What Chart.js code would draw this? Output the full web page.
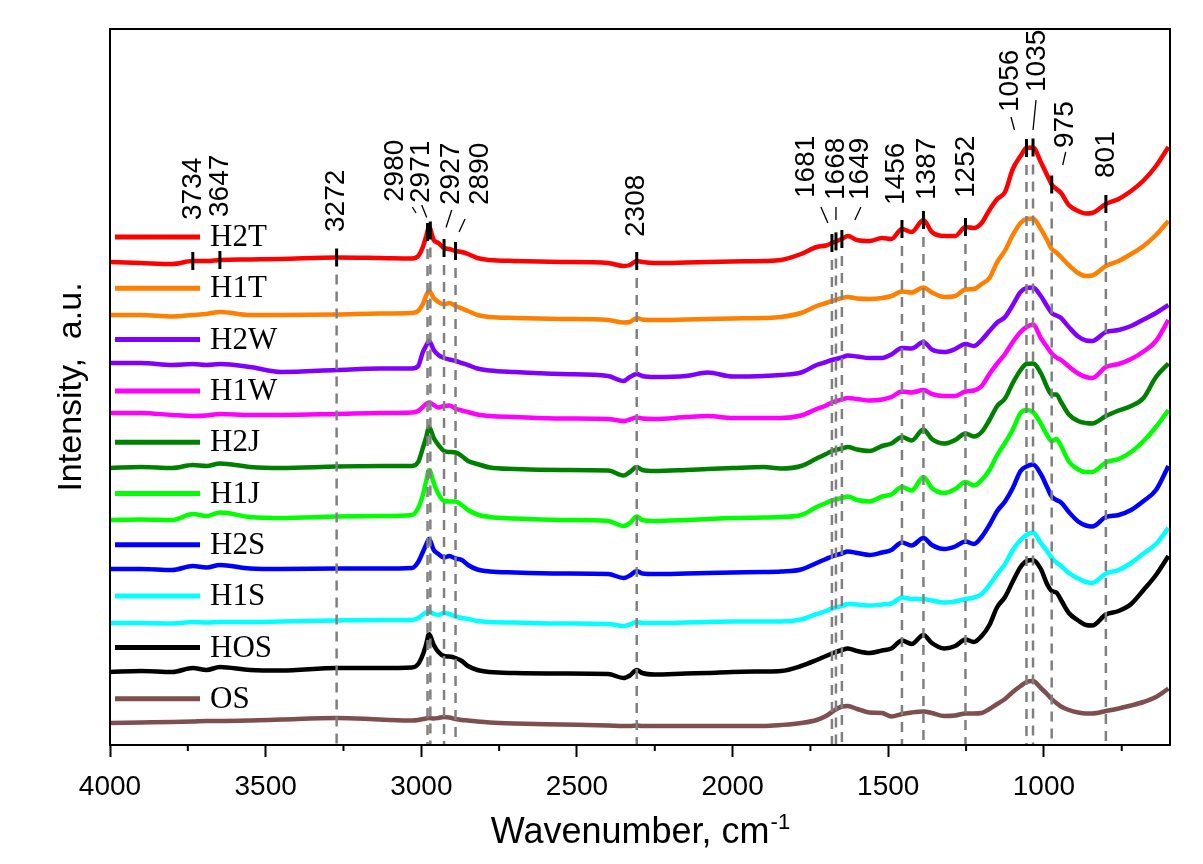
<!DOCTYPE html>
<html><head><meta charset="utf-8">
<script src="https://cdn.jsdelivr.net/npm/chart.js@4.4.1/dist/chart.umd.min.js"></script>
<style>html,body{margin:0;padding:0;background:#fff;}canvas{display:block;}</style>
</head><body>
<canvas id="c" width="1203" height="864"></canvas>
<script>
// ---------- data (wavenumber, cm-1) ----------
const wavenumbers = [4000,3900,3800,3734,3690,3647,3550,3450,3272,3133,3030,3010,2995,2985,2975,2960,2945,2927,2910,2890,2870,2850,2820,2780,2700,2550,2400,2350,2330,2308,2290,2250,2150,2080,2000,1900,1845,1780,1730,1700,1681,1649,1630,1600,1560,1520,1490,1456,1425,1387,1360,1320,1285,1252,1225,1200,1175,1150,1125,1100,1075,1056,1035,1010,990,975,960,945,920,890,865,845,801,760,720,680,640,600];

const H2T = [483,482,481,484,484,485,485.5,486,487.5,487, 486.5,489,498,508,518,505,502,497,496,494, 493,491,487,485,484,483,482,479,480,484, 483,482,482.5,483,483.5,484,485,491,498,499.5, 502,506,509,505,504,507,506,516,513,525, 513,509,509,518,517,522,535,546,553,576, 589,597,597.5,583,570,560.5,556,552,540,534, 531.5,532,541,546,554,564.5,579,598];
const H1T = [430,430,428.5,430,431,433,430,430,430.5,431.5, 432,434,441,449,454,447,443,440.5,442,439, 436.5,434,430,428,427,426,425,422.5,423,427, 425.5,425,425.5,426,426.5,427,428,432,439,442, 444,447,448,446.5,446,447,449,453.5,452.5,457.5, 452.5,448,449,455.5,456,461,467,483,494.5,510, 522,526,526.5,516,505,496,492.5,488,480,472, 469,469.5,479,484,491,499,510,524];
const H2W = [382,382,380,381,380,381,378,373,375,376.5, 376.5,379,393,399,404,395,390,387,385.5,384, 382,380,376.5,374.5,373,371,369,364,368,371, 369,368,369,372.5,368.5,369,370,372.5,380,383, 385,387.5,389.5,388.5,387,387,390.5,397,396.5,403, 395.5,393,396,401,399,405,414,422.5,428,440, 453,457,457.5,449,439,432,429.5,427,418,408.5, 404.5,404,413,415,419,425.5,432,440];
const H1W = [332,332,330,329,329.5,331,330,330,331,332, 332.5,334,338,341,342.5,340,337.5,339,339.5,336.5, 334.5,333,330.5,329,328,326.5,326,324,325.5,327.5, 326.5,326,328,329,327,327,327,329.5,336,339.5, 342.5,345.5,347,346,344.5,345.5,348,353.5,352.5,355, 351,349,349,353.5,354.5,359,371,381.5,391,403, 413,418,420.5,407,398,391.5,387.5,385,378.5,371.5, 368,367,378,381,386,393.5,404,425];
const H2J = [277,278,277,280,279,281.5,278,277,278.5,279, 279,283,297,307,318,307,300,294,293,292.5, 289,284,281,277.5,276,275,274.5,269.5,273,278, 275,274,275,276,277,278,276.5,279,286.5,291, 294,296.5,298,295.5,294,299,301.5,308,304.5,315.5, 306,301.5,305,311.5,308.5,313,325,339,346.5,362, 375,381,381.5,372,358,350.5,350.5,343,330.5,324, 322,321.5,329,334.5,339,347,368,381.5];
const H1J = [225,225.5,225,231,229,232.5,228,227,228.5,229, 230,237,250,263,275,262,251,244,243.5,243.5, 240,235,230.5,228,226.5,225,224,219,222,228.5, 225,224,225,226,227,227.5,228,230,238,242, 244.5,247,248.5,245,243.5,248.5,250.5,258,254.5,268, 257,252,256,263,259.5,265,275,290,302,315.5, 332,335,333,321.5,310,304,306,299,283.5,275.5, 273,273,282.5,286,293,304,318,335];
const H2S = [176,176,175,179,177.5,180,176.5,176,176.5,176.5, 177,183,193,200,206,195,191,187.5,189,186.5, 185,180,175.5,173.5,172.5,171.5,171,167,169.5,174, 171.5,171,171.5,172,172.5,173,173.5,175.5,182,186, 188.5,191.5,193.5,192,190,192.5,195,202.5,199.5,207, 200,196,198.5,203.5,201,208,220,234,243.5,257, 274,278.5,280.5,271,258,248.5,245,242.5,233,223.5, 219.5,218.5,228,230,235,244,255,279];
const H1S = [122,122,121.5,123,122.5,123,123,123.5,124.5,125, 125,127,130.5,132.5,133.5,131,130,132,131,128.5, 127,126,124,123,122.5,121.5,121,119,120.5,123, 122,122,122.5,123,123.5,123.5,123.5,125.5,131,134, 136.5,139,141,140.5,139.5,140.5,141.5,147.5,146,146, 144.5,142.5,143.5,146,147.5,151,160,171,181,195, 205,210,212.5,202,194,187,182.5,179,172,166.5, 163,162,171.5,175,182,191.5,201,217];
const HOS = [73,74,73,77,75,78,75,74.5,77,77, 77.5,81,90.5,100,111,100,93,89,88.5,87, 84,79,75,73,72,71.5,71,67,69.5,75, 72,70.5,71.5,72,73,73.5,74,79,85,89, 91.5,95,96.5,94,92,94.5,96.5,104.5,101,110, 102,96.5,99,105.5,103,109,120,138,148,163.5, 178,184,185,176,161,154,152.5,145,132,124.5, 120,119.5,130.5,134,141,155,170,189];
const OS = [22,22.5,23,23.5,24,24,24.5,25.5,27,25.5, 24.5,25,26,26.5,27,26.5,27,28,27.5,26, 25,24.5,23.5,22.5,21.5,20.5,19.5,19,19,19.5, 19,19,19,19,19,19,20,22,25,29, 33,38.5,39,36,32.5,32,28.5,31,32.5,33.5, 32,29,29.5,31.5,31.5,32,36,41,46,53, 59,63,64,57,51,46,42,38.5,35,32.5, 31.5,31.5,34,36.5,39.5,43,48,56.5];

const seriesNames = ['H2T','H1T','H2W','H1W','H2J','H1J','H2S','H1S','HOS','OS'];
const seriesValues = [H2T,H1T,H2W,H1W,H2J,H1J,H2S,H1S,HOS,OS];
const seriesColors = ['#ff0000','#ff8000','#8000ff','#ff00ff','#008000','#00ff00','#0000ff','#00ffff','#000000','#7f4f4f'];

const xTickValues = [4000,3500,3000,2500,2000,1500,1000];
const xMinorTickValues = [3750,3250,2750,2250,1750,1250,750];

// peak annotations (marked on H2T)
const peaks = [3734,3647,3272,2980,2971,2927,2890,2308,1681,1668,1649,1456,1387,1252,1056,1035,975,801];

// ---------- layout of annotations (pixels) ----------
const peakLayout = {
  3734:{dx:0,gap:32,drop:false}, 3647:{dx:0,gap:34,drop:false}, 3272:{dx:0,gap:16.5},
  2980:{dx:-32.5,gap:21,lead:[-15.2,16,-11.5,10]},
  2971:{dx:-9.3,gap:18.5,lead:[-8.6,16.5,-3.6,4]},
  2927:{dx:7,gap:34,lead:[7.7,29,2,11.5]},
  2890:{dx:24.5,gap:37,lead:[9.5,23,3.5,10]},
  2308:{dx:0,gap:15},
  1681:{dx:-26,gap:36,lead:[-11,27,-4,11]},
  1668:{dx:0,gap:32.4,lead:[0,25.4,0,12.4]},
  1649:{dx:18,gap:30,lead:[19,23,13,10]},
  1456:{dx:-6,gap:15}, 1387:{dx:4,gap:11}, 1252:{dx:1,gap:20},
  1056:{dx:-16.5,gap:27,lead:[-15.5,22,-12,9]},
  1035:{dx:4,gap:46.5,lead:[3,38.5,0,8.5]},
  975:{dx:14,gap:27.5,lead:[14,23.5,11,10.5]},
  801:{dx:0,gap:17}
};
const MARK_HALF = 9;

function h2tAt(w){
  for (let i=0;i<wavenumbers.length-1;i++){
    const a=wavenumbers[i], b=wavenumbers[i+1];
    if (w<=a && w>=b){ const t=(a-w)/(a-b); return H2T[i]+t*(H2T[i+1]-H2T[i]); }
  }
  return H2T[H2T.length-1];
}

const SANS = '"Liberation Sans", Arial, sans-serif';
const SERIF = '"Liberation Serif", "Times New Roman", serif';

const overlay = {
  id:'overlay',
  afterDatasetsDraw(chart){
    const {ctx, chartArea:a, scales:{x,y}} = chart;
    ctx.save();
    // drop lines
    ctx.strokeStyle='#808080'; ctx.lineWidth=2.5; ctx.setLineDash([10,7]);
    peaks.forEach(w=>{
      const L=peakLayout[w]; if (L.drop===false) return;
      const px=x.getPixelForValue(w), py=y.getPixelForValue(h2tAt(w));
      ctx.beginPath(); ctx.moveTo(px, py+MARK_HALF+8); ctx.lineTo(px, a.bottom-1); ctx.stroke();
    });
    ctx.setLineDash([]);
    // markers
    ctx.strokeStyle='#000'; ctx.lineWidth=3;
    peaks.forEach(w=>{
      const px=x.getPixelForValue(w), py=y.getPixelForValue(h2tAt(w));
      ctx.beginPath(); ctx.moveTo(px, py-MARK_HALF); ctx.lineTo(px, py+MARK_HALF); ctx.stroke();
    });
    // labels + leader lines
    ctx.fillStyle='#000'; ctx.font='28px '+SANS;
    peaks.forEach(w=>{
      const L=peakLayout[w];
      const px=x.getPixelForValue(w), top=y.getPixelForValue(h2tAt(w))-MARK_HALF;
      ctx.save(); ctx.translate(px+L.dx, top-L.gap); ctx.rotate(-Math.PI/2);
      ctx.textAlign='left'; ctx.textBaseline='middle'; ctx.fillText(String(w),0,0); ctx.restore();
      if (L.lead){
        ctx.lineWidth=1.3; ctx.beginPath();
        ctx.moveTo(px+L.lead[0], top-L.lead[1]); ctx.lineTo(px+L.lead[2], top-L.lead[3]); ctx.stroke();
      }
    });
    ctx.restore();
  },
  afterDraw(chart){
    const {ctx, chartArea:a, scales:{x}} = chart;
    ctx.save();
    // minor ticks
    ctx.strokeStyle='#000'; ctx.lineWidth=2;
    xMinorTickValues.forEach(v=>{
      const px=x.getPixelForValue(v);
      ctx.beginPath(); ctx.moveTo(px,a.bottom); ctx.lineTo(px,a.bottom+6); ctx.stroke();
    });
    // frame
    ctx.lineWidth=2; ctx.strokeRect(a.left,a.top,a.right-a.left,a.bottom-a.top);
    // legend
    chart.data.datasets.forEach((ds,i)=>{
      const ly=237+i*51.3;
      ctx.strokeStyle=ds.borderColor; ctx.lineWidth=5;
      ctx.beginPath(); ctx.moveTo(115,ly); ctx.lineTo(200,ly); ctx.stroke();
      ctx.fillStyle='#000'; ctx.font='31px '+SERIF; ctx.textAlign='left'; ctx.textBaseline='middle';
      ctx.fillText(ds.label,210,ly+1);
    });
    // x title with superscript
    const main='Wavenumber, cm', sup='-1';
    ctx.font='36px '+SANS; const w1=ctx.measureText(main).width;
    ctx.font='22px '+SANS; const w2=ctx.measureText(sup).width;
    const cx=(a.left+a.right)/2, x0=cx-(w1+w2)/2;
    ctx.fillStyle='#000'; ctx.textBaseline='alphabetic'; ctx.textAlign='left';
    ctx.font='36px '+SANS; ctx.fillText(main,x0,843);
    ctx.font='22px '+SANS; ctx.fillText(sup,x0+w1+1,829);
    // y title
    ctx.save(); ctx.translate(72,(a.top+a.bottom)/2); ctx.rotate(-Math.PI/2);
    ctx.font='34px '+SANS; ctx.textAlign='center'; ctx.textBaseline='middle';
    ctx.fillText('Intensity,  a.u.',0,0); ctx.restore();
    ctx.restore();
  }
};

new Chart(document.getElementById('c'), {
  type:'line',
  data:{
    datasets: seriesNames.map((n,i)=>({
      label:n,
      data: wavenumbers.map((w,j)=>({x:w,y:seriesValues[i][j]})),
      borderColor:seriesColors[i], backgroundColor:seriesColors[i],
      borderWidth:4.5, pointRadius:0, fill:false, cubicInterpolationMode:'monotone'
    }))
  },
  options:{
    responsive:false, animation:false, devicePixelRatio:1, events:[],
    layout:{padding:{left:110,top:29,right:33,bottom:0}},
    plugins:{legend:{display:false}, tooltip:{enabled:false}, title:{display:false}},
    scales:{
      x:{
        type:'linear', reverse:true, min:595, max:4000,
        afterBuildTicks:(s)=>{ s.ticks = xTickValues.map(v=>({value:v})); },
        afterFit:(s)=>{ s.height=119; },
        ticks:{ callback:(v)=>String(v), color:'#000', font:{family:SANS,size:28}, padding:13, maxRotation:0, autoSkip:false },
        grid:{ display:true, drawOnChartArea:false, drawTicks:true, tickLength:12, tickWidth:2, tickColor:'#000' },
        border:{ display:false }
      },
      y:{ type:'linear', display:false, min:0, max:716 }
    }
  },
  plugins:[overlay]
});
</script>
</body></html>
